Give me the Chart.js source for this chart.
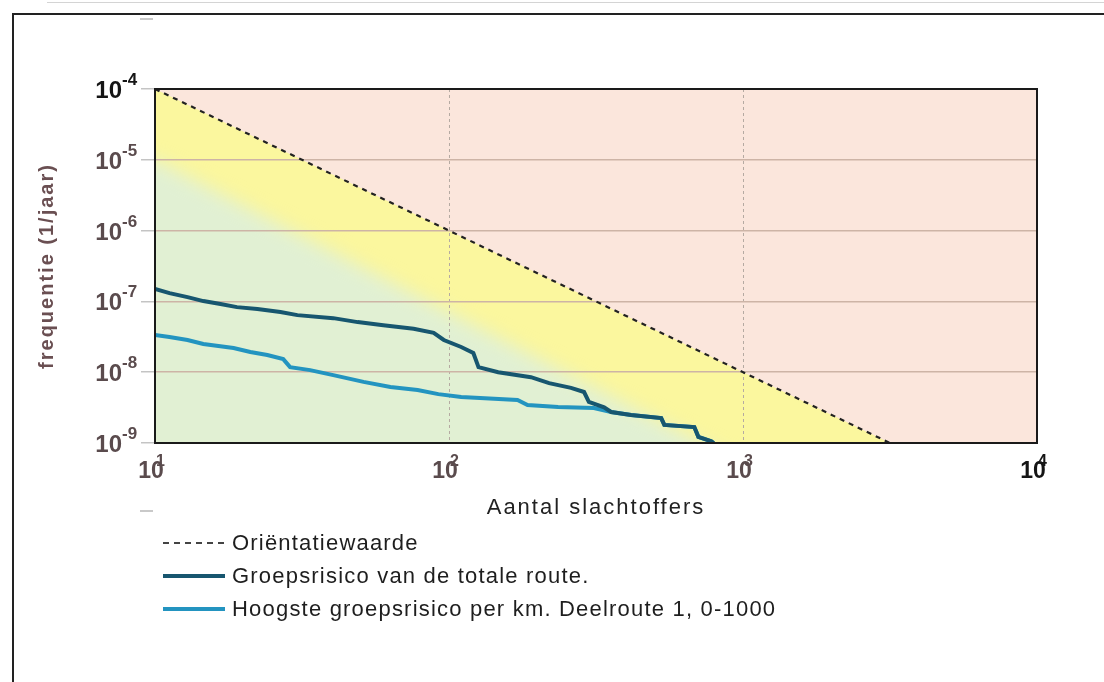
<!DOCTYPE html>
<html lang="nl">
  <head>
    <meta charset="UTF-8" />
    <title>Groepsrisico FN-curve</title>
    <script src="https://cdn.jsdelivr.net/npm/chart.js"></script>
    <style>
      body { margin: 0; background: #fff; font-family: "Liberation Sans", Arial, sans-serif; }
      .wrap { position: relative; width: 1104px; height: 682px; overflow: hidden; }
      #chart { position: absolute; left: 0; top: 0; }
      /* rand van de scan */
      .frame { position: absolute; left: 12px; top: 13px; width: 1200px; height: 700px;
               border-left: 2px solid #222; border-top: 2px solid #222; }
      .scanline { position: absolute; left: 47px; top: 2px; width: 1060px; height: 1px; background: #d4d4d4; }
      .mark { position: absolute; left: 140px; width: 13px; height: 2px; background: #c9c9c9; }
      #legend { position: absolute; left: 163px; top: 526px; }
      .item { display: flex; align-items: center; height: 33px; font-size: 22px;
              letter-spacing: 1.2px; color: #1e1e1e; white-space: nowrap; }
      .sample { width: 62px; margin-right: 7px; }
    </style>
  </head>
  <body>
    <div class="wrap">
      <div class="scanline"></div>
      <div class="frame"></div>
      <div class="mark" style="top: 18px"></div>
      <div class="mark" style="top: 510px"></div>
      <canvas id="chart" width="1104" height="682"></canvas>
      <div id="legend"></div>
    </div>

    <script>
      // assen
      const xTicks = [10, 100, 1000, 10000];
      const yTicks = [1e-9, 1e-8, 1e-7, 1e-6, 1e-5, 1e-4];

      // oriëntatiewaarde (F = 1e-2 / N^2)
      const orientN = [10, 3162];
      const orientF = [1e-4, 1e-9];

      // grens groen / geel gebied
      const zoneN = [10, 720];
      const zoneF = [1e-5, 1e-9];

      // groepsrisico van de totale route
      const totalN = [10, 11.2, 12.9, 14.6, 16.7, 19.0, 22.3, 26.7, 30.5, 40.4, 48.9, 59.8, 75.8, 88.7, 96, 110, 121, 126, 147, 190, 219, 260, 288, 299, 337, 356, 416, 527, 540, 683, 705, 780, 795];
      const totalF = [1.5e-7, 1.31e-7, 1.15e-7, 1.01e-7, 9.2e-8, 8.3e-8, 7.8e-8, 7.1e-8, 6.4e-8, 5.8e-8, 5.1e-8, 4.6e-8, 4.1e-8, 3.6e-8, 2.85e-8, 2.27e-8, 1.87e-8, 1.18e-8, 1.0e-8, 8.5e-9, 7.0e-9, 6.0e-9, 5.25e-9, 3.8e-9, 3.2e-9, 2.74e-9, 2.48e-9, 2.25e-9, 1.8e-9, 1.68e-9, 1.22e-9, 1.06e-9, 1.0e-9];

      // hoogste groepsrisico per km, deelroute 1
      const peakN = [10, 11.2, 12.9, 14.6, 18.5, 21.1, 24.1, 27.3, 28.8, 33.7, 40.4, 51.2, 63.2, 78.2, 92, 110, 171, 185, 235, 311, 356, 416, 527, 540, 683, 705, 780, 795];
      const peakF = [3.35e-8, 3.14e-8, 2.85e-8, 2.5e-8, 2.2e-8, 1.93e-8, 1.75e-8, 1.53e-8, 1.18e-8, 1.07e-8, 9.1e-9, 7.3e-9, 6.2e-9, 5.6e-9, 4.9e-9, 4.47e-9, 4.05e-9, 3.44e-9, 3.22e-9, 3.12e-9, 2.74e-9, 2.48e-9, 2.25e-9, 1.8e-9, 1.68e-9, 1.22e-9, 1.06e-9, 1.0e-9];

      const toXY = (xs, ys) => xs.map((v, i) => ({ x: v, y: ys[i] }));

      // achtergrondvlakken: roze, geel onder oriëntatiewaarde, groen daaronder
      const zones = {
        id: "zones",
        beforeDraw(chart) {
          const { ctx, chartArea: a, scales } = chart;
          const px = (v) => scales.x.getPixelForValue(v);
          const py = (v) => scales.y.getPixelForValue(v);
          ctx.save();
          ctx.beginPath();
          ctx.rect(a.left, a.top, a.width, a.height);
          ctx.clip();
          ctx.fillStyle = "#fbe6dc";
          ctx.fillRect(a.left, a.top, a.width, a.height);

          ctx.fillStyle = "#fbf79e";
          ctx.beginPath();
          ctx.moveTo(px(orientN[0]), py(orientF[0]));
          ctx.lineTo(px(orientN[1]), py(orientF[1]));
          ctx.lineTo(px(orientN[1]), a.bottom + 40);
          ctx.lineTo(a.left - 40, a.bottom + 40);
          ctx.lineTo(a.left - 40, py(orientF[0]));
          ctx.closePath();
          ctx.fill();

          // zachte overgang zoals in het origineel
          const x0 = px(zoneN[0]), y0 = py(zoneF[0]);
          const x1 = px(zoneN[1]), y1 = py(zoneF[1]);
          const x2 = x1 + (x1 - x0) * 0.2, y2 = y1 + (y1 - y0) * 0.2;
          ctx.filter = "blur(9px)";
          ctx.fillStyle = "#e1f0d3";
          ctx.beginPath();
          ctx.moveTo(a.left - 60, y0 + 4);
          ctx.lineTo(x0, y0);
          ctx.lineTo(x2, y2);
          ctx.lineTo(a.left - 60, y2);
          ctx.closePath();
          ctx.fill();
          ctx.restore();
        },
      };

      // assenlabels 10^n en kader
      const labelY = (a) => a.bottom + 35;
      const decorations = {
        id: "decorations",
        beforeDraw(chart) {
          chart.ctx.letterSpacing = "2px";
        },
        afterDraw(chart) {
          const { ctx, chartArea: a, scales } = chart;
          ctx.save();
          ctx.letterSpacing = "0px";
          ctx.textBaseline = "alphabetic";
          scales.y.ticks.forEach((t) => {
            const py = scales.y.getPixelForValue(t.value);
            const e = Math.round(Math.log10(t.value));
            ctx.fillStyle = e === -4 ? "#151515" : "#5a4b4d";
            ctx.font = 'bold 24px "Liberation Sans"';
            ctx.textAlign = "right";
            ctx.fillText("10", 122, py + 9);
            ctx.font = 'bold 17px "Liberation Sans"';
            ctx.textAlign = "left";
            ctx.fillText(String(e), 122, py - 4);
          });
          scales.x.ticks.forEach((t) => {
            const px = scales.x.getPixelForValue(t.value);
            const e = Math.round(Math.log10(t.value));
            ctx.fillStyle = e === 4 ? "#151515" : "#5a4b4d";
            ctx.font = 'bold 23px "Liberation Sans"';
            ctx.textAlign = "center";
            ctx.fillText("10", px - 4, labelY(a));
            ctx.font = 'bold 16px "Liberation Sans"';
            ctx.textAlign = "left";
            ctx.fillText(String(e), px + 1, labelY(a) - 12);
          });
          ctx.strokeStyle = "#1a1a1a";
          ctx.lineWidth = 2;
          ctx.strokeRect(a.left, a.top, a.width, a.height);
          ctx.restore();
          ctx.letterSpacing = "0px";
        },
      };

      // legenda in html, onder de grafiek
      const htmlLegend = {
        id: "htmlLegend",
        afterUpdate(chart) {
          const box = document.getElementById("legend");
          box.innerHTML = "";
          chart.data.datasets.forEach((ds) => {
            const item = document.createElement("div");
            item.className = "item";
            const s = document.createElement("span");
            s.className = "sample";
            if (ds.borderDash && ds.borderDash.length) {
              s.style.height = "2px";
              s.style.background = "repeating-linear-gradient(90deg, #444 0 6px, transparent 6px 11px)";
            } else {
              s.style.height = "4px";
              s.style.background = ds.borderColor;
            }
            const txt = document.createElement("span");
            txt.textContent = ds.label;
            item.appendChild(s);
            item.appendChild(txt);
            box.appendChild(item);
          });
        },
      };

      new Chart(document.getElementById("chart"), {
        type: "line",
        data: {
          datasets: [
            {
              label: "Oriëntatiewaarde",
              data: toXY(orientN, orientF),
              borderColor: "#222",
              borderWidth: 2.2,
              borderDash: [5, 5],
              pointRadius: 0,
            },
            {
              label: "Groepsrisico van de totale route.",
              data: toXY(totalN, totalF),
              borderColor: "#17566f",
              borderWidth: 4,
              pointRadius: 0,
            },
            {
              label: "Hoogste groepsrisico per km. Deelroute 1, 0-1000",
              data: toXY(peakN, peakF),
              borderColor: "#2394c0",
              borderWidth: 4,
              pointRadius: 0,
            },
          ],
        },
        options: {
          responsive: false,
          animation: false,
          layout: { padding: { left: 30, top: 89, right: 67, bottom: 159 } },
          plugins: { legend: { display: false }, tooltip: { enabled: false } },
          scales: {
            x: {
              type: "logarithmic",
              min: 10,
              max: 10000,
              afterBuildTicks: (s) => { s.ticks = xTicks.map((v) => ({ value: v })); },
              afterFit: (s) => { s.height = 80; },
              ticks: { display: false },
              grid: { color: "#b5aaa2", lineWidth: 1, drawTicks: false },
              border: { display: false, dash: [3, 3] },
              title: {
                display: true,
                text: "Aantal slachtoffers",
                color: "#222",
                font: { family: "Liberation Sans", size: 22 },
                padding: { top: 0, bottom: 2 },
              },
            },
            y: {
              type: "logarithmic",
              min: 1e-9,
              max: 1e-4,
              afterBuildTicks: (s) => { s.ticks = yTicks.map((v) => ({ value: v })); },
              afterFit: (s) => { s.width = 125; },
              ticks: { display: false },
              grid: { color: "#cdb4a6", lineWidth: 1.5, tickColor: "#c4c4c4", tickLength: 14 },
              border: { display: false },
              title: {
                display: true,
                text: "frequentie (1/jaar)",
                color: "#6a4f52",
                font: { family: "Liberation Sans", size: 20, weight: "bold" },
                padding: { top: 5, bottom: 0 },
              },
            },
          },
        },
        plugins: [zones, decorations, htmlLegend],
      });
    </script>
  </body>
</html>
